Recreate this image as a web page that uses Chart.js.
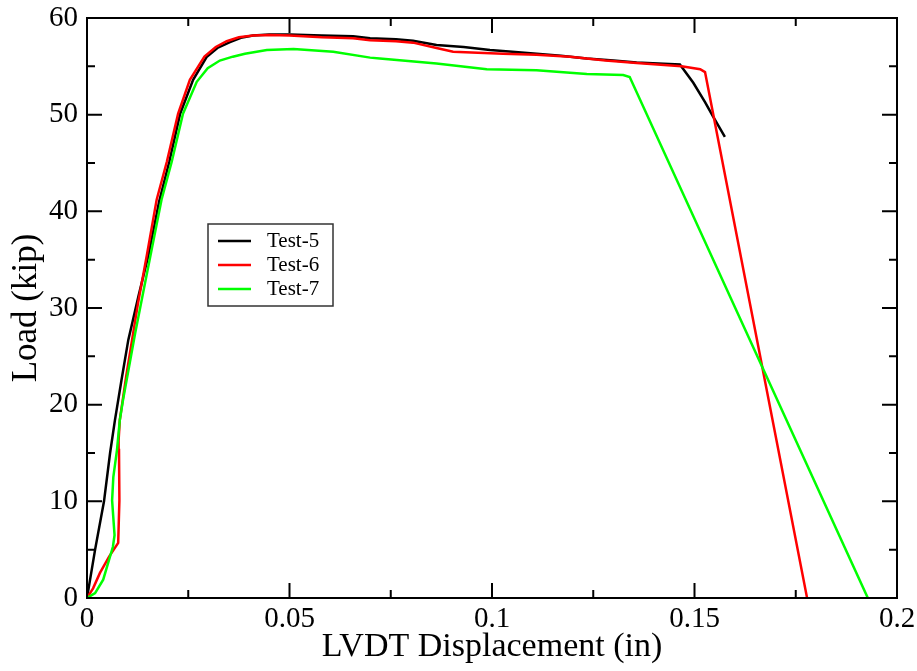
<!DOCTYPE html>
<html>
<head>
<meta charset="utf-8">
<script src="https://cdn.jsdelivr.net/npm/chart.js@4.4.0/dist/chart.umd.min.js"></script>
<style>
  html, body { margin: 0; padding: 0; background: #fff; }
  #wrap { width: 917px; height: 671px; position: relative; }
</style>
</head>
<body>
<div id="wrap"><canvas id="loadChart"></canvas></div>
<script>
const seriesNames = ['Test-5', 'Test-6', 'Test-7'];
const seriesColors = ['#000000', '#ff0000', '#00ff00'];

// Test-5 (black)
const test5X = [0, 0.002, 0.0042, 0.0057, 0.0069, 0.0085, 0.0102, 0.0127, 0.0152, 0.0178, 0.0203, 0.023, 0.0262, 0.0296, 0.0322, 0.0353, 0.038, 0.041, 0.045, 0.05, 0.058, 0.0657, 0.0699, 0.0763, 0.0805, 0.0863, 0.093, 0.0995, 0.105, 0.111, 0.117, 0.1234, 0.13, 0.1357, 0.141, 0.1464, 0.1497, 0.1526, 0.1546, 0.1575];
const test5Y = [0, 5, 10, 15, 18.4, 22.5, 26.7, 31.2, 35.5, 41, 45.1, 50.1, 53.6, 56, 56.9, 57.5, 57.95, 58.2, 58.3, 58.3, 58.2, 58.1, 57.9, 57.8, 57.65, 57.2, 57.0, 56.7, 56.5, 56.3, 56.1, 55.8, 55.6, 55.4, 55.3, 55.2, 53.3, 51.3, 49.8, 47.7];

// Test-6 (red)
const test6X = [0, 0.0015, 0.0032, 0.0055, 0.0077, 0.008, 0.0079, 0.0078, 0.0081, 0.0097, 0.0114, 0.0126, 0.0148, 0.0172, 0.0197, 0.0225, 0.0254, 0.029, 0.0318, 0.0345, 0.0375, 0.041, 0.045, 0.05, 0.058, 0.0657, 0.0699, 0.0763, 0.0805, 0.0863, 0.0904, 0.0965, 0.1027, 0.111, 0.1193, 0.128, 0.1357, 0.1468, 0.1514, 0.1526, 0.1778];
const test6Y = [0, 1.0, 2.6, 4.3, 5.7, 10.1, 15.3, 16.3, 18.4, 23, 27.4, 30.5, 35.5, 41.2, 45.1, 50.1, 53.6, 56, 57.0, 57.6, 58.0, 58.2, 58.25, 58.2, 58.0, 57.9, 57.7, 57.6, 57.45, 56.9, 56.5, 56.4, 56.3, 56.2, 56.0, 55.6, 55.35, 55.0, 54.7, 54.4, 0];

// Test-7 (green)
const test7X = [0, 0.002, 0.004, 0.0064, 0.0068, 0.0062, 0.0065, 0.0074, 0.0081, 0.0089, 0.0119, 0.015, 0.0184, 0.0209, 0.0237, 0.0271, 0.0298, 0.0328, 0.036, 0.039, 0.0444, 0.051, 0.0608, 0.0699, 0.0723, 0.0863, 0.0987, 0.111, 0.1234, 0.1324, 0.134, 0.1928];
const test7Y = [0, 0.5, 1.9, 5.3, 6.5, 10.1, 12.5, 15.3, 18.4, 20.5, 27.4, 34, 41.2, 45.1, 50.1, 53.4, 54.8, 55.6, 56.0, 56.3, 56.7, 56.8, 56.5, 55.9, 55.8, 55.3, 54.7, 54.6, 54.2, 54.1, 53.9, 0];

const xTicks = [0, 0.05, 0.1, 0.15, 0.2];
const xTickLabels = ['0', '0.05', '0.1', '0.15', '0.2'];
const xMinorTicks = [0.025, 0.075, 0.125, 0.175];
const yTicks = [0, 10, 20, 30, 40, 50, 60];
const yTickLabels = ['0', '10', '20', '30', '40', '50', '60'];
const yMinorTicks = [5, 15, 25, 35, 45, 55];

const serif = "'Liberation Serif', 'DejaVu Serif', serif";

const toPoints = (xs, ys) => xs.map((x, i) => ({ x: x, y: ys[i] }));

// frame and inward tick marks on all four sides
const frameTicks = {
  id: 'frameTicks',
  afterDatasetsDraw(chart) {
    const { ctx, chartArea: a, scales: { x, y } } = chart;
    ctx.save();
    ctx.strokeStyle = '#000';
    ctx.lineWidth = 2;
    ctx.beginPath();
    const mark = (vals, len) => {
      vals.forEach(v => {
        const px = x.getPixelForValue(v);
        ctx.moveTo(px, a.bottom); ctx.lineTo(px, a.bottom - len);
        ctx.moveTo(px, a.top); ctx.lineTo(px, a.top + len);
      });
    };
    const markY = (vals, len) => {
      vals.forEach(v => {
        const py = y.getPixelForValue(v);
        ctx.moveTo(a.left, py); ctx.lineTo(a.left + len, py);
        ctx.moveTo(a.right, py); ctx.lineTo(a.right - len, py);
      });
    };
    mark(xTicks, 15);
    mark(xMinorTicks, 8);
    markY(yTicks, 15);
    markY(yMinorTicks, 8);
    ctx.stroke();
    ctx.strokeRect(a.left, a.top, a.right - a.left, a.bottom - a.top);
    ctx.restore();
  }
};

// boxed legend inside the plot
const boxLegend = {
  id: 'boxLegend',
  afterDraw(chart) {
    const { ctx, chartArea: a } = chart;
    const left = a.left + 121, top = a.top + 206;
    ctx.save();
    ctx.fillStyle = '#fff';
    ctx.fillRect(left, top, 125, 82);
    ctx.strokeStyle = '#333';
    ctx.lineWidth = 1.5;
    ctx.strokeRect(left, top, 125, 82);
    ctx.font = '21px ' + serif;
    ctx.textBaseline = 'middle';
    ctx.textAlign = 'left';
    chart.data.datasets.forEach((ds, i) => {
      const yy = top + 17 + i * 24;
      ctx.strokeStyle = ds.borderColor;
      ctx.lineWidth = 2.5;
      ctx.beginPath();
      ctx.moveTo(left + 10, yy);
      ctx.lineTo(left + 43, yy);
      ctx.stroke();
      ctx.fillStyle = '#000';
      ctx.fillText(ds.label, left + 59, yy);
    });
    ctx.restore();
  }
};

const seriesX = [test5X, test6X, test7X];
const seriesY = [test5Y, test6Y, test7Y];

new Chart(document.getElementById('loadChart'), {
  type: 'scatter',
  data: {
    datasets: seriesNames.map((name, i) => ({
      label: name,
      data: toPoints(seriesX[i], seriesY[i]),
      showLine: true,
      borderColor: seriesColors[i],
      backgroundColor: seriesColors[i],
      borderWidth: 2.5,
      pointRadius: 0,
      tension: 0,
      order: 2 - i
    }))
  },
  options: {
    responsive: true,
    maintainAspectRatio: false,
    animation: false,
    layout: { padding: { top: 18, right: 20, left: 0, bottom: 0 } },
    plugins: {
      legend: { display: false },
      tooltip: { enabled: false }
    },
    scales: {
      x: {
        type: 'linear',
        min: 0,
        max: 0.2,
        grid: { display: false, drawTicks: false },
        border: { display: false },
        afterBuildTicks: s => { s.ticks = xTicks.map(v => ({ value: v })); },
        afterFit: s => { s.height = 73; s.paddingLeft = 0; s.paddingRight = 0; },
        ticks: {
          autoSkip: false,
          maxRotation: 0,
          padding: 4,
          color: '#000',
          font: { family: serif, size: 29 },
          callback: v => xTickLabels[xTicks.indexOf(v)]
        },
        title: {
          display: true,
          text: 'LVDT Displacement (in)',
          color: '#000',
          font: { family: serif, size: 34, weight: 'normal' },
          padding: { top: 0, bottom: 4 }
        }
      },
      y: {
        type: 'linear',
        min: 0,
        max: 60,
        grid: { display: false, drawTicks: false },
        border: { display: false },
        afterBuildTicks: s => { s.ticks = yTicks.map(v => ({ value: v })); },
        afterFit: s => { s.width = 87; s.paddingTop = 0; s.paddingBottom = 0; },
        ticks: {
          autoSkip: false,
          padding: 9,
          color: '#000',
          font: { family: serif, size: 29 },
          callback: v => yTickLabels[yTicks.indexOf(v)]
        },
        title: {
          display: true,
          text: 'Load (kip)',
          color: '#000',
          font: { family: serif, size: 35, weight: 'normal' },
          padding: { top: 6, bottom: 0 }
        }
      }
    }
  },
  plugins: [frameTicks, boxLegend]
});
</script>
</body>
</html>
